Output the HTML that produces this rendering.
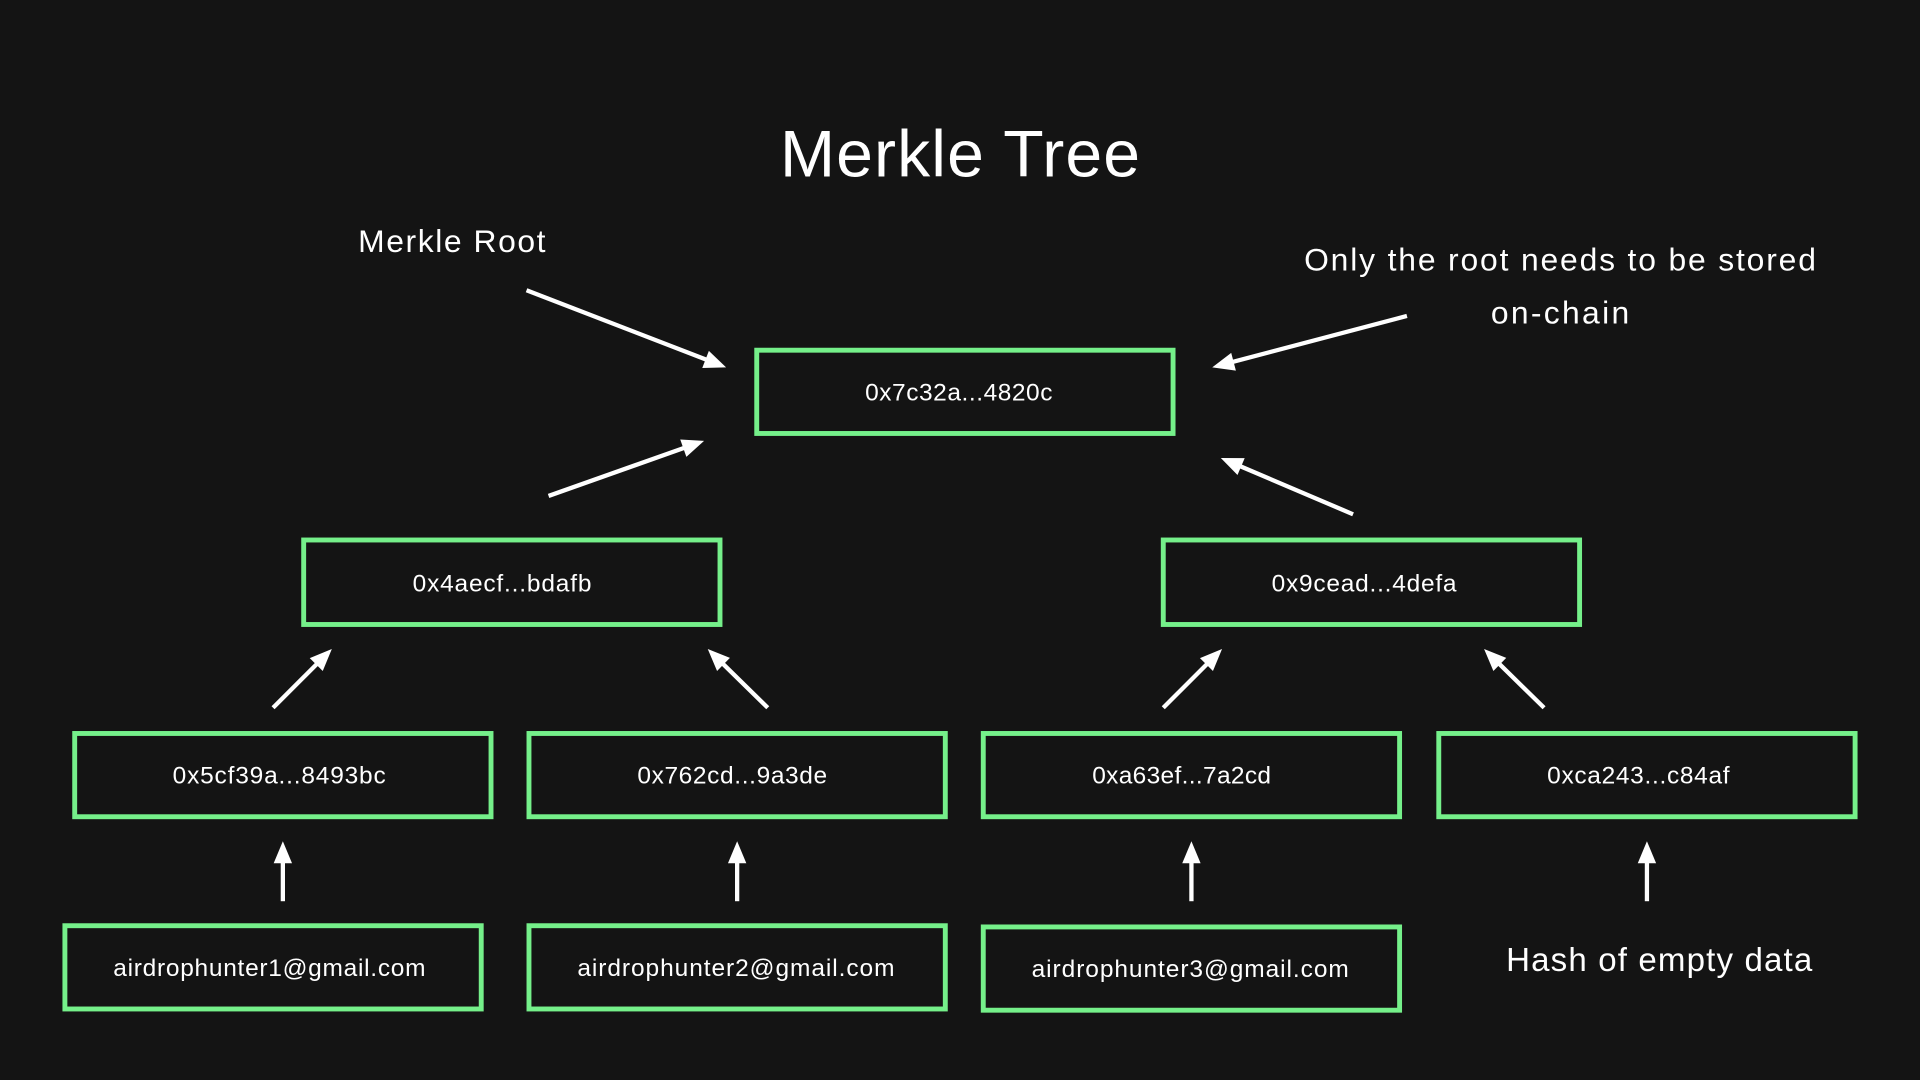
<!DOCTYPE html>
<html><head><meta charset="utf-8"><style>
html,body{margin:0;padding:0;background:#141414;}
svg{display:block;}
text{font-family:"Liberation Sans",sans-serif;fill:#fff;}
</style></head><body>
<svg id="s" width="1920" height="1080" viewBox="0 0 1568 882" xmlns="http://www.w3.org/2000/svg">
<rect width="1568" height="882" fill="#141414"/>
<text x="784" y="144" font-size="54" text-anchor="middle" textLength="294">Merkle Tree</text>
<text x="369" y="206" font-size="26" text-anchor="middle" textLength="153">Merkle Root</text>
<text x="1274" y="221" font-size="26" text-anchor="middle" textLength="418">Only the root needs to be stored</text>
<text x="1274" y="264" font-size="26" text-anchor="middle" textLength="113">on-chain</text>
<text x="1355" y="793" font-size="27" text-anchor="middle" textLength="250">Hash of empty data</text>
<g fill="none" stroke="#75f08a" stroke-width="4">
<rect x="618" y="286" width="340" height="68"/>
<rect x="248" y="441" width="340" height="69"/>
<rect x="950" y="441" width="340" height="69"/>
<rect x="61" y="599" width="340" height="68"/>
<rect x="432" y="599" width="340" height="68"/>
<rect x="803" y="599" width="340" height="68"/>
<rect x="1175" y="599" width="340" height="68"/>
<rect x="53" y="756" width="340" height="68"/>
<rect x="432" y="756" width="340" height="68"/>
<rect x="803" y="757" width="340" height="68"/>
</g>
<g font-size="20" text-anchor="middle">
<text x="783" y="327" textLength="153">0x7c32a...4820c</text>
<text x="410" y="483" textLength="146">0x4aecf...bdafb</text>
<text x="1114" y="483" textLength="151">0x9cead...4defa</text>
<text x="228" y="640" textLength="174">0x5cf39a...8493bc</text>
<text x="598" y="640" textLength="155">0x762cd...9a3de</text>
<text x="965" y="640" textLength="146">0xa63ef...7a2cd</text>
<text x="1338" y="640" textLength="149">0xca243...c84af</text>
<text x="220" y="797" textLength="255">airdrophunter1@gmail.com</text>
<text x="601" y="797" textLength="259">airdrophunter2@gmail.com</text>
<text x="972" y="798" textLength="259">airdrophunter3@gmail.com</text>
</g>
<g id="arrows"></g>
</svg>
<script>
var A=[[430,237,593,300],[1149,258,990,300],[448,405,575,360],[1105,420,997,374],
[223,578,271,530],[627,578,578,530],[950,578,998,530],[1261,578,1212,530],
[231,736,231,687],[602,736,602,687],[973,736,973,687],[1345,736,1345,687]];
var g=document.getElementById('arrows'),h='';
A.forEach(function(a){var dx=a[2]-a[0],dy=a[3]-a[1],L=Math.sqrt(dx*dx+dy*dy),ux=dx/L,uy=dy/L,hl=18,hw=7.5;
var bx=a[2]-ux*hl,by=a[3]-uy*hl;
h+='<line x1="'+a[0]+'" y1="'+a[1]+'" x2="'+(bx+ux*2)+'" y2="'+(by+uy*2)+'" stroke="#fff" stroke-width="3.5"/>';
h+='<polygon fill="#fff" points="'+a[2]+','+a[3]+' '+(bx-uy*hw)+','+(by+ux*hw)+' '+(bx+uy*hw)+','+(by-ux*hw)+'"/>';});
g.innerHTML=h;
</script>
</body></html>
